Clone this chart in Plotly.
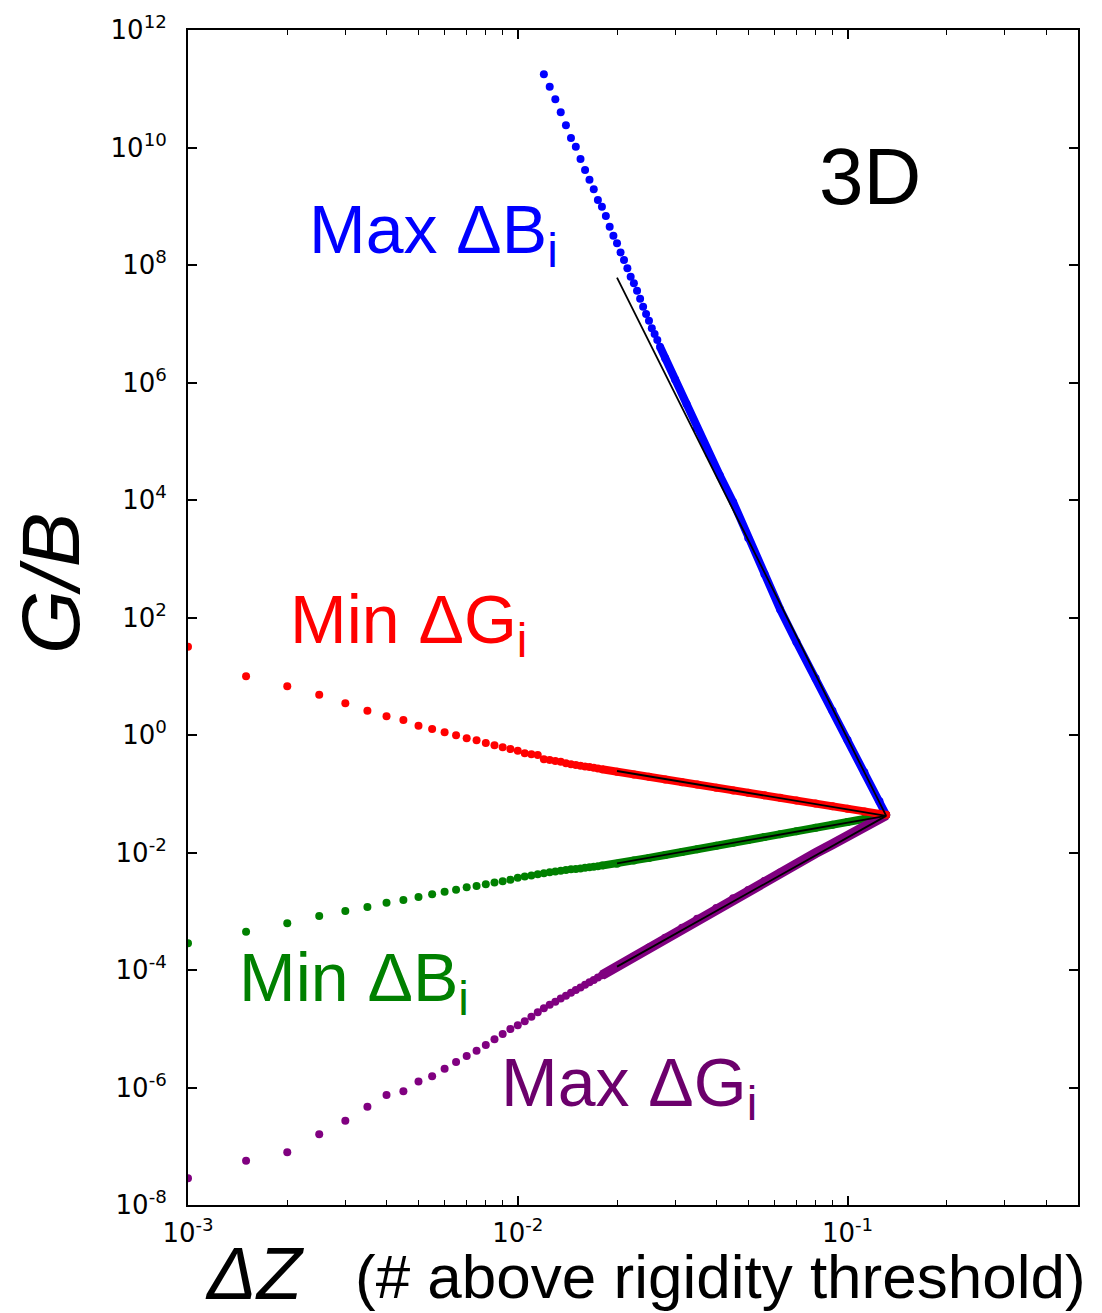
import plotly.graph_objects as go

# ---- data -------------------------------------------------------------
# Sparse, individually resolved points (Delta Z on a 0.0005 grid)
DZ_SPARSE = [0.0010, 0.0015, 0.0020, 0.0025, 0.0030, 0.0035, 0.0040, 0.0045,
             0.0050, 0.0055, 0.0060, 0.0065, 0.0070, 0.0075, 0.0080, 0.0085,
             0.0090, 0.0095, 0.0100, 0.0105, 0.0110, 0.0115, 0.0120, 0.0125,
             0.0130, 0.0135, 0.0140, 0.0145, 0.0150, 0.0155, 0.0160, 0.0165,
             0.0170, 0.0175]

MIN_DG_SPARSE = [31.8, 9.98, 6.75, 4.85, 3.46, 2.59, 2.08, 1.80, 1.44, 1.26,
                 1.11, 0.989, 0.879, 0.813, 0.731, 0.667, 0.617, 0.578, 0.541,
                 0.489, 0.469, 0.457, 0.385, 0.375, 0.361, 0.351, 0.330, 0.319,
                 0.309, 0.300, 0.292, 0.284, 0.276, 0.269]

MIN_DB_SPARSE = [2.84e-4, 4.49e-4, 6.24e-4, 8.30e-4, 1.01e-3, 1.18e-3, 1.40e-3,
                 1.55e-3, 1.75e-3, 1.94e-3, 2.15e-3, 2.33e-3, 2.55e-3, 2.69e-3,
                 2.88e-3, 3.08e-3, 3.24e-3, 3.45e-3, 3.72e-3, 3.89e-3, 4.07e-3,
                 4.25e-3, 4.45e-3, 4.59e-3, 4.74e-3, 4.90e-3, 5.04e-3, 5.18e-3,
                 5.24e-3, 5.36e-3, 5.48e-3, 5.61e-3, 5.73e-3, 5.86e-3]

MAX_DG_SPARSE = [2.84e-8, 5.68e-8, 7.88e-8, 1.60e-7, 2.72e-7, 4.71e-7, 7.45e-7,
                 8.61e-7, 1.26e-6, 1.55e-6, 2.09e-6, 2.72e-6, 3.44e-6, 4.23e-6,
                 5.28e-6, 6.61e-6, 8.14e-6, 9.91e-6, 1.15e-5, 1.34e-5, 1.60e-5,
                 1.91e-5, 2.24e-5, 2.55e-5, 2.89e-5, 3.26e-5, 3.66e-5, 4.09e-5,
                 4.55e-5, 5.05e-5, 5.59e-5, 6.16e-5, 6.78e-5, 7.43e-5]

# Dense part, where the points merge into a continuous band
DZ_DENSE = [0.018, 0.020, 0.0225, 0.025, 0.028, 0.0315, 0.035, 0.040, 0.045,
            0.050, 0.056, 0.0625, 0.070, 0.080, 0.090, 0.100, 0.1125, 0.125,
            0.131]

MIN_DG_DENSE = [0.261, 0.237, 0.213, 0.194, 0.175, 0.157, 0.143, 0.127, 0.114,
                0.104, 0.0939, 0.0851, 0.0767, 0.0681, 0.0612, 0.0557, 0.0501,
                0.0456, 0.0437]

MIN_DB_DENSE = [5.98e-3, 6.46e-3, 7.28e-3, 8.09e-3, 9.08e-3, 1.02e-2, 1.14e-2,
                1.30e-2, 1.47e-2, 1.63e-2, 1.83e-2, 2.05e-2, 2.30e-2, 2.63e-2,
                2.96e-2, 3.30e-2, 3.72e-2, 4.14e-2, 4.35e-2]

MAX_DG_DENSE = [8.13e-5, 1.14e-4, 1.69e-4, 2.41e-4, 3.53e-4, 5.24e-4, 7.48e-4,
                1.14e-3, 1.66e-3, 2.31e-3, 3.27e-3, 4.57e-3, 6.46e-3, 9.75e-3,
                1.38e-2, 1.91e-2, 2.73e-2, 3.77e-2, 4.35e-2]

# Max Delta B_i starts later and is much steeper
DZ_MAX_DB_SPARSE = [0.0120, 0.0125, 0.0130, 0.0135, 0.0140, 0.0145, 0.0150,
                    0.0155, 0.0160, 0.0165, 0.0170, 0.0175, 0.0180, 0.0185,
                    0.0190, 0.0195, 0.0200, 0.0205, 0.0210, 0.0215, 0.0220,
                    0.0225, 0.0230, 0.0235, 0.0240, 0.0245, 0.0250, 0.0255,
                    0.0260, 0.0265]
MAX_DB_SPARSE = [1.76e11, 1.08e11, 6.61e10, 3.97e10, 2.39e10, 1.45e10, 1.03e10,
                 6.37e9, 4.14e9, 2.83e9, 1.95e9, 1.28e9, 9.82e8, 6.82e8, 4.49e8,
                 3.16e8, 2.34e8, 1.64e8, 1.22e8, 8.79e7, 6.32e7, 4.89e7, 3.65e7,
                 2.67e7, 1.95e7, 1.47e7, 1.12e7, 8.36e6, 6.70e6, 5.28e6]

DZ_MAX_DB_DENSE = [0.027, 0.028, 0.030, 0.0325, 0.035, 0.038, 0.041, 0.045,
                   0.050, 0.056, 0.0625, 0.070, 0.080, 0.090, 0.100, 0.1125,
                   0.125, 0.131]
MAX_DB_DENSE = [4.06e6, 2.59e6, 1.13e6, 4.29e5, 1.66e5, 6.14e4, 2.61e4, 9.20e3,
                2.25e3, 548, 137, 38.3, 9.23, 2.58, 0.826, 0.232, 0.0746, 0.0435]

# Power-law fits (end points)
FIT_DZ = [0.020, 0.131]
FIT_MAX_DB = [6.08e7, 0.042]
FIT_MIN_DG = [0.244, 0.042]
FIT_MIN_DB = [6.55e-3, 0.042]
FIT_MAX_DG = [1.14e-4, 0.042]

# Axis ticks
X_TICKS = [1e-3, 1e-2, 1e-1]
X_TICK_TEXT = ["10<sup>-3</sup>", "10<sup>-2</sup>", "10<sup>-1</sup>"]
Y_TICKS = [1e-8, 1e-6, 1e-4, 1e-2, 1e0, 1e2, 1e4, 1e6, 1e8, 1e10, 1e12]
Y_TICK_TEXT = ["10<sup>-8</sup>", "10<sup>-6</sup>", "10<sup>-4</sup>",
               "10<sup>-2</sup>", "10<sup>0</sup>", "10<sup>2</sup>",
               "10<sup>4</sup>", "10<sup>6</sup>", "10<sup>8</sup>",
               "10<sup>10</sup>", "10<sup>12</sup>"]

BLUE = "#0000ff"
RED = "#ff0000"
GREEN = "#008000"
PURPLE = "#800080"

fig = go.Figure()


def add_series(x_sparse, y_sparse, x_dense, y_dense, color, band):
    fig.add_trace(go.Scatter(
        x=x_sparse, y=y_sparse, mode="markers",
        marker=dict(size=8, color=color, line=dict(width=0)),
        hoverinfo="skip"))
    fig.add_trace(go.Scatter(
        x=x_dense, y=y_dense, mode="lines+markers",
        line=dict(color=color, width=band),
        marker=dict(size=8, color=color, line=dict(width=0)),
        hoverinfo="skip"))


add_series(DZ_MAX_DB_SPARSE, MAX_DB_SPARSE, DZ_MAX_DB_DENSE, MAX_DB_DENSE, BLUE, 8)
add_series(DZ_SPARSE, MIN_DB_SPARSE, DZ_DENSE, MIN_DB_DENSE, GREEN, 8)
add_series(DZ_SPARSE, MAX_DG_SPARSE, DZ_DENSE, MAX_DG_DENSE, PURPLE, 10)
add_series(DZ_SPARSE, MIN_DG_SPARSE, DZ_DENSE, MIN_DG_DENSE, RED, 8)

for fit in (FIT_MAX_DB, FIT_MIN_DG, FIT_MIN_DB, FIT_MAX_DG):
    fig.add_trace(go.Scatter(
        x=FIT_DZ, y=fit, mode="lines",
        line=dict(color="black", width=1.8), hoverinfo="skip"))

axis_style = dict(
    type="log", showgrid=False, zeroline=False,
    showline=True, linecolor="black", linewidth=2, mirror="allticks",
    ticks="inside", ticklen=9, tickwidth=1.5, tickcolor="black",
    tickfont=dict(family="DejaVu Sans", size=26, color="black"),
)

fig.update_xaxes(
    **axis_style, range=[-3, -0.30103],
    tickmode="array", tickvals=X_TICKS, ticktext=X_TICK_TEXT,
    ticklabelstandoff=4,
    minor=dict(ticks="inside", ticklen=5, tickwidth=1.2, tickcolor="black",
               dtick="D1", showgrid=False),
)
fig.update_yaxes(
    **axis_style, range=[-8, 12],
    tickmode="array", tickvals=Y_TICKS, ticktext=Y_TICK_TEXT,
    ticklabelstandoff=14,
)

label_font = "Liberation Sans, Arial, sans-serif"
annotations = [
    dict(text="3D", x=0.707, y=0.8753, font=dict(size=80, color="black")),
    dict(text="Max ΔB<sub>i</sub>", x=0.1337, y=0.826, font=dict(size=68, color=BLUE)),
    dict(text="Min ΔG<sub>i</sub>", x=0.1121, y=0.4945, font=dict(size=68, color=RED)),
    dict(text="Min ΔB<sub>i</sub>", x=0.0547, y=0.190, font=dict(size=68, color=GREEN)),
    dict(text="Max ΔG<sub>i</sub>", x=0.3489, y=0.1004, font=dict(size=68, color="#6c006c")),
    dict(text="<i>ΔZ</i>", x=0.0169, y=-0.0583, font=dict(size=74, color="black")),
    dict(text="(# above rigidity threshold)", x=0.1855, y=-0.0610,
         font=dict(size=62, color="black")),
]
for a in annotations:
    a["font"]["family"] = label_font
    fig.add_annotation(xref="paper", yref="paper", xanchor="left", yanchor="middle",
                       showarrow=False, **a)

fig.add_annotation(text="<i>G/B</i>", xref="paper", yref="paper", x=-0.154, y=0.5294,
                   xanchor="center", yanchor="middle", textangle=-90, showarrow=False,
                   font=dict(family=label_font, size=82, color="black"))

fig.update_layout(
    width=1102, height=1313,
    margin=dict(l=188, r=24, t=30, b=108),
    paper_bgcolor="white", plot_bgcolor="white",
    showlegend=False,
)

fig.write_html("out.html")
